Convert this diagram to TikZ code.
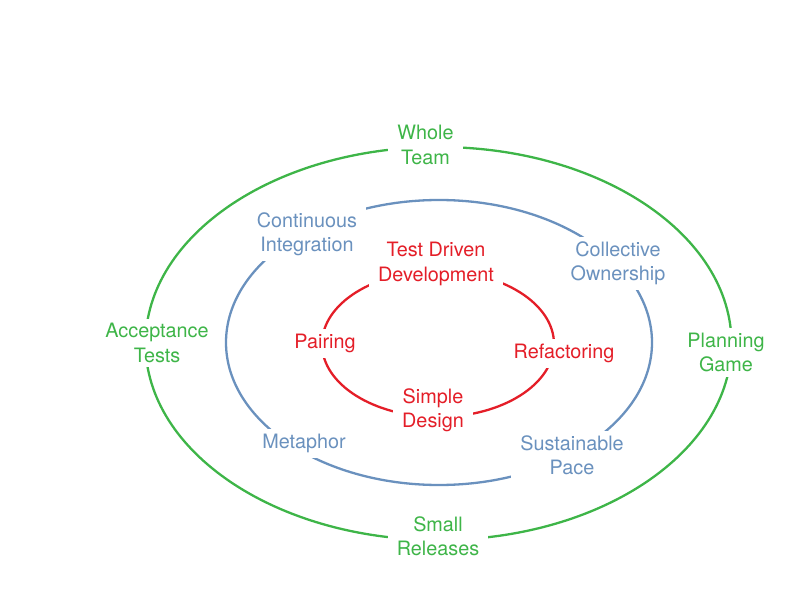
\documentclass[tikz,border=0pt]{standalone}
\usepackage{fontspec}
\setmainfont{TeX Gyre Heros}
\definecolor{xpgreen}{RGB}{62,181,72}
\definecolor{xpblue}{RGB}{106,145,190}
\definecolor{xpred}{RGB}{228,30,40}
\tikzset{
  lbl/.style={fill=white, align=center, inner xsep=9pt, inner ysep=5pt,
    font=\fontsize{19.8}{24.2}\selectfont},
  glbl/.style={lbl, text=xpgreen},
  blbl/.style={lbl, text=xpblue},
  rlbl/.style={lbl, text=xpred},
  ring/.style={line width=2.3pt}
}
\begin{document}
\begin{tikzpicture}[x=1pt,y=-1pt]
\useasboundingbox (0,0) rectangle (808,612);
\draw[ring, xpgreen] (438.5,343.5) ellipse [x radius=293pt, y radius=196.5pt];
\draw[ring, xpblue] (439,342.5) ellipse [x radius=213pt, y radius=142.5pt];
\draw[ring, xpred] (438,344) ellipse [x radius=116pt, y radius=73pt];
% green
\node[glbl] (whole) at (425.5,145) {Whole\\Team};
\node[glbl] (accept) at (157,343) {Acceptance\\Tests};
\node[glbl] (plan) at (726,352.5) {Planning\\Game};
\node[glbl] (small) at (438,536.5) {Small\\Releases};
% blue
\node[blbl] (ci) at (307,234) {Continuous\\Integration};
\node[blbl] (co) at (618,263.5) {Collective\\Ownership};
\node[blbl, inner xsep=12pt] (meta) at (304,443.5) {Metaphor};
\node[blbl] (sp) at (572,455.5) {Sustainable\\Pace};
% red
\node[rlbl] (tdd) at (436,264) {Test Driven\\Development};
\node[rlbl] (pair) at (325,343.5) {Pairing};
\node[rlbl] (refac) at (564,353.5) {Refactoring};
\node[rlbl] (sd) at (433,410) {Simple\\Design};
\end{tikzpicture}
\end{document}
